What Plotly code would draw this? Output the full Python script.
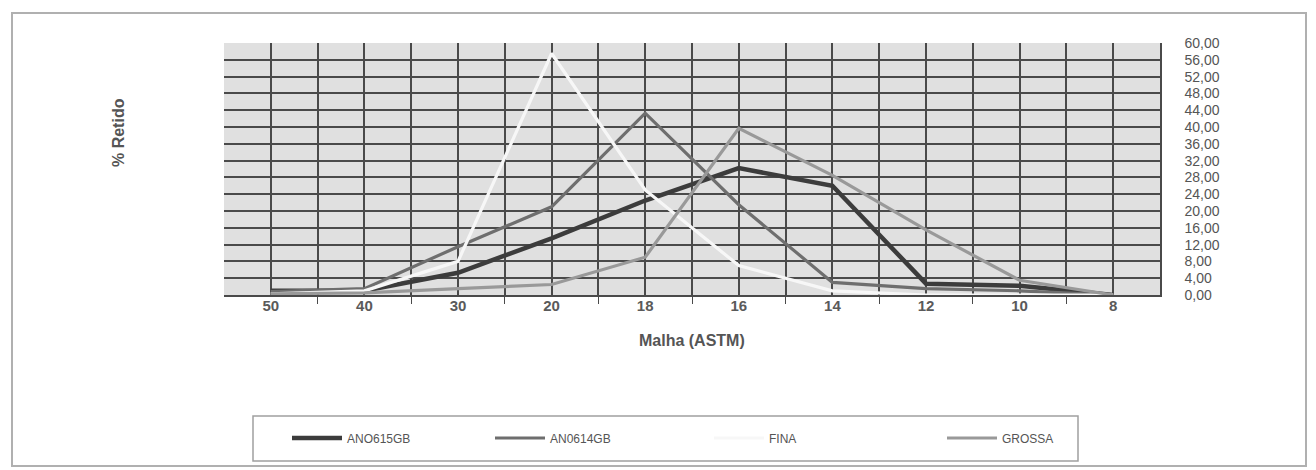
import plotly.graph_objects as go

categories = ["50", "40", "30", "20", "18", "16", "14", "12", "10", "8"]
ano615gb = [1.0, 1.0, 5.3, 13.5, 22.5, 30.2, 26.0, 2.7, 2.2, 0.0]
ano614gb = [0.8, 1.5, 11.5, 21.0, 43.3, 21.5, 3.0, 1.5, 1.0, 0.0]
fina = [0.3, 1.0, 8.0, 57.5, 25.0, 7.0, 1.0, 0.0, 0.0, 0.0]
grossa = [0.3, 0.5, 1.5, 2.5, 9.0, 39.7, 28.5, 15.5, 3.5, 0.0]
y_ticks = [0, 4, 8, 12, 16, 20, 24, 28, 32, 36, 40, 44, 48, 52, 56, 60]
y_tick_text = [f"{v:.2f}".replace(".", ",") for v in y_ticks]

W, H = 1316, 470
L, R, T, B = 224, 156, 43, 175
PW, PH = W - L - R, H - T - B


def px(x):
    return (x - L) / PW


def py(y):
    return (H - B - y) / PH


FONT = "Liberation Sans, Arial, sans-serif"
xs = list(range(len(categories)))

series = [
    ("ANO615GB", ano615gb, "#3c3c3c", 4.5, "legend"),
    ("AN0614GB", ano614gb, "#6e6e6e", 3.2, "legend2"),
    ("FINA", fina, "#f7f7f7", 3.2, "legend3"),
    ("GROSSA", grossa, "#999999", 3.2, "legend4"),
]

fig = go.Figure()
for name, vals, col, w, lg in series:
    fig.add_trace(go.Scatter(
        x=xs, y=vals, name=name, mode="lines",
        line=dict(color=col, width=w), legend=lg,
    ))

legend_text_x = [345, 548, 767, 1000]
leg_common = dict(
    orientation="h", yanchor="middle", xanchor="left",
    bgcolor="rgba(0,0,0,0)", borderwidth=0, itemwidth=50,
    font=dict(family=FONT, size=12, color="#555555"),
)
legends = {}
for i, key in enumerate(["legend", "legend2", "legend3", "legend4"]):
    legends[key] = dict(leg_common, x=px(legend_text_x[i] - 58), y=py(438))

fig.update_layout(
    width=W, height=H,
    margin=dict(l=L, r=R, t=T, b=B),
    paper_bgcolor="white",
    plot_bgcolor="#e0e0e0",
    showlegend=True,
    **legends,
    xaxis=dict(
        range=[-0.5, len(categories) - 0.5],
        tickmode="array", tickvals=xs,
        ticktext=[f"<b>{c}</b>" for c in categories],
        showgrid=True, gridcolor="#4a4a4a", gridwidth=1.5,
        ticks="", zeroline=False,
        showline=True, linecolor="#4a4a4a", linewidth=1.5,
        tickfont=dict(family=FONT, size=15, color="#5a5a5a"),
        ticklabelstandoff=-4,
        minor=dict(
            tickmode="array",
            tickvals=[i + 0.5 for i in range(len(categories) - 1)],
            showgrid=True, gridcolor="#4a4a4a", gridwidth=1.5,
            ticks="outside", ticklen=7, tickcolor="#4a4a4a",
        ),
        fixedrange=True,
    ),
    yaxis=dict(
        range=[0, 60], side="right",
        tickmode="array", tickvals=y_ticks, ticktext=y_tick_text,
        showgrid=True, gridcolor="#4a4a4a", gridwidth=1.5,
        zeroline=False, ticks="",
        showline=True, linecolor="#4a4a4a", linewidth=1.5,
        tickfont=dict(family=FONT, size=14, color="#555555"),
        ticklabelstandoff=20,
        fixedrange=True,
    ),
    shapes=[
        dict(type="rect", xref="paper", yref="paper",
             x0=px(12), x1=px(1306), y0=py(466), y1=py(13),
             line=dict(color="#b0b0b0", width=2), layer="below"),
        dict(type="rect", xref="paper", yref="paper",
             x0=px(253), x1=px(1078), y0=py(461), y1=py(416),
             line=dict(color="#a0a0a0", width=1.5), layer="below"),
    ],
    annotations=[
        dict(text="<b>% Retido</b>", xref="paper", yref="paper",
             x=px(118), y=py(133), showarrow=False, textangle=-90,
             font=dict(family=FONT, size=16, color="#555555"),
             xanchor="center", yanchor="middle"),
        dict(text="<b>Malha (ASTM)</b>", xref="paper", yref="paper",
             x=0.5, y=py(340), showarrow=False,
             font=dict(family=FONT, size=16, color="#555555"),
             xanchor="center", yanchor="middle"),
    ],
)

fig.write_html("out.html",
               config={"displayModeBar": False},
               post_script="document.body.style.margin='0';document.body.style.padding='0';")
